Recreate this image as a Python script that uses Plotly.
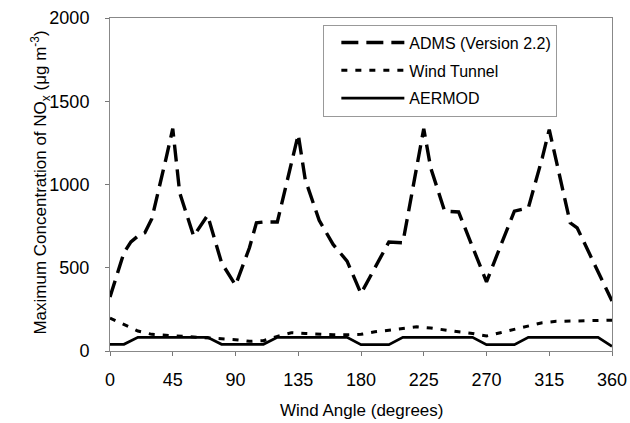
import plotly.graph_objects as go

# ADMS (Version 2.2)
adms_angle = [0, 10, 15, 20, 25, 30, 40, 45, 50, 60, 70, 80, 90, 100, 105, 110, 120, 130, 135,
              140, 150, 160, 170, 180, 190, 200, 210, 225, 230, 240, 250, 260, 270, 280, 290,
              300, 310, 315, 320, 330, 335, 340, 350, 360]
adms_conc = [325, 590, 655, 690, 710, 795, 1150, 1335, 950, 690, 815, 530, 395, 620, 770, 775, 775, 1125, 1300,
             1030, 785, 640, 540, 345, 505, 655, 650, 1335, 1100, 840, 835, 620, 415, 630, 840,
             860, 1160, 1330, 1150, 770, 740, 650, 475, 300]

# Wind Tunnel and AERMOD on 10-degree grid
angle = list(range(0, 361, 10))
tunnel_conc = [198, 160, 120, 100, 95, 90, 85, 80, 75, 68, 58, 62, 88, 110, 105, 100, 98, 98, 100,
               115, 125, 135, 145, 138, 125, 115, 105, 90, 110, 130, 150, 170, 178, 180, 183, 185, 185]
aermod_conc = [40, 40, 82, 82, 82, 82, 82, 82, 40, 40, 40, 40, 82, 82, 82, 82, 82, 82, 38,
               38, 38, 82, 82, 82, 82, 82, 82, 38, 38, 38, 82, 82, 82, 82, 82, 82, 28]

x_ticks = [0, 45, 90, 135, 180, 225, 270, 315, 360]
y_ticks = [0, 500, 1000, 1500, 2000]

font_family = "Liberation Sans, Arial, sans-serif"

fig = go.Figure()
fig.add_trace(go.Scatter(x=adms_angle, y=adms_conc, mode="lines", name="ADMS (Version 2.2)",
                         legendgroup="a",
                         line=dict(color="black", width=3.4, dash="17px,8px")))
fig.add_trace(go.Scatter(x=angle, y=tunnel_conc, mode="lines", name="Wind Tunnel",
                         legendgroup="b",
                         line=dict(color="black", width=3, dash="6px,8px")))
fig.add_trace(go.Scatter(x=angle, y=aermod_conc, mode="lines", name="AERMOD",
                         legendgroup="c",
                         line=dict(color="black", width=2.8)))

fig.update_layout(
    width=630, height=423,
    margin=dict(l=110, r=18, t=18, b=72),
    paper_bgcolor="white", plot_bgcolor="white",
    font=dict(family=font_family, size=18, color="black"),
    showlegend=True,
    legend=dict(x=0.425, y=0.98, xanchor="left", yanchor="top",
                bordercolor="#999", borderwidth=1, bgcolor="white",
                font=dict(size=16), itemwidth=63, tracegroupgap=4,
                indentation=12),
    xaxis=dict(range=[0, 360], tickvals=x_ticks, ticks="outside", ticklen=4,
               tickcolor="#777", showgrid=False, zeroline=False, ticklabelstandoff=8,
               showline=True, linecolor="#888", linewidth=1, mirror=True,
               automargin=False),
    yaxis=dict(range=[0, 2000], tickvals=y_ticks, ticks="outside", ticklen=4,
               tickcolor="#777", showgrid=False, zeroline=False, ticklabelstandoff=12,
               showline=True, linecolor="#888", linewidth=1, mirror=True,
               automargin=False),
    annotations=[
        dict(text="Maximum Concentration of NO<sub>x</sub> (μg m<sup>-3</sup>)",
             textangle=-90, xref="paper", yref="paper",
             x=-0.138, y=0.505, xanchor="center", yanchor="middle",
             showarrow=False, font=dict(size=17)),
        dict(text="Wind Angle (degrees)", xref="paper", yref="paper",
             x=0.5, y=-0.18, xanchor="center", yanchor="middle",
             showarrow=False, font=dict(size=17)),
    ],
)

fig.write_html("out.html")
